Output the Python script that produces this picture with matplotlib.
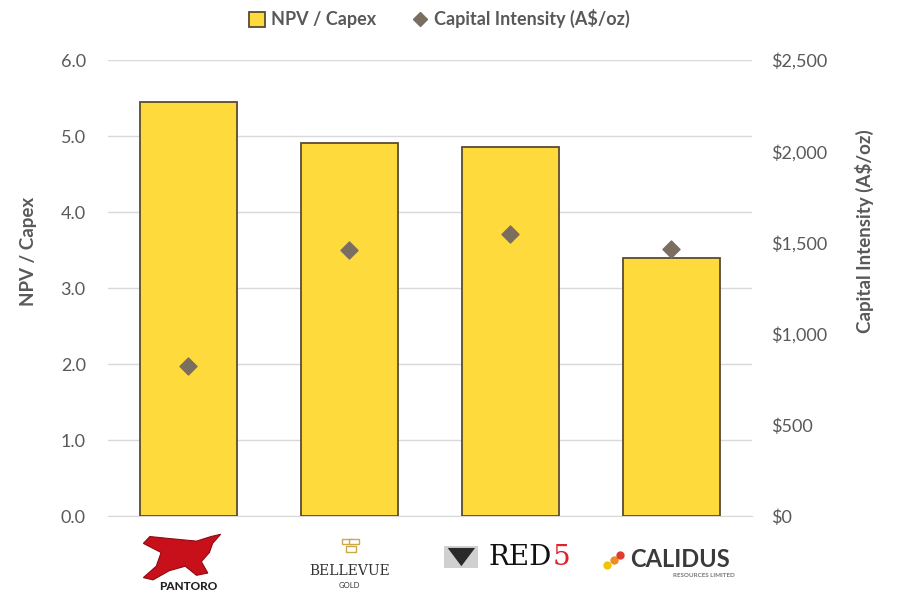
import matplotlib
matplotlib.use("Agg")
import matplotlib.pyplot as plt
from matplotlib.lines import Line2D
from matplotlib.patches import Patch, Polygon, Rectangle

plt.rcParams['font.family'] = ['Lato', 'DejaVu Sans']

companies = ["PANTORO", "BELLEVUE", "RED5", "CALIDUS"]
npv_capex = [5.45, 4.91, 4.86, 3.39]
cap_intensity = [822, 1458, 1546, 1464]
left_ticks = [0.0, 1.0, 2.0, 3.0, 4.0, 5.0, 6.0]
right_ticks = [0, 500, 1000, 1500, 2000, 2500]

bar_color = "#FFDA3D"
edge_color = "#5A4A32"
diamond_color = "#7A6E61"
text_gray = "#595959"

fig = plt.figure(figsize=(9.02, 5.93), dpi=100)
ax = fig.add_axes([0.1197, 0.1298, 0.714, 0.769])
x = list(range(len(companies)))
ax.bar(x, npv_capex, width=0.6, color=bar_color, edgecolor=edge_color, linewidth=1.3, zorder=3)
ax.set_ylim(0, 6)
ax.set_xlim(-0.5, 3.5)
ax.set_yticks(left_ticks)
ax.set_yticklabels([f"{v:.1f}" for v in left_ticks])
ax.grid(axis='y', color="#D9D9D9", linewidth=1, zorder=0)
for s in ["top", "right", "left"]:
    ax.spines[s].set_visible(False)
ax.spines["bottom"].set_color("#D9D9D9")
ax.tick_params(axis='y', length=0, labelsize=13, labelcolor=text_gray, pad=16)
ax.tick_params(axis='x', length=0)
ax.set_ylabel("NPV / Capex", fontsize=13.5, fontweight='bold', color=text_gray)
ax.yaxis.set_label_coords(-0.11, 0.58)

ax2 = ax.twinx()
ax2.scatter(x, cap_intensity, marker='D', s=75, color=diamond_color, zorder=4)
ax2.set_ylim(0, 2500)
ax2.set_yticks(right_ticks)
ax2.set_yticklabels([f"\\${v:,}" for v in right_ticks])
for s in ["top", "right", "left", "bottom"]:
    ax2.spines[s].set_visible(False)
ax2.tick_params(axis='y', length=0, labelsize=13, labelcolor=text_gray, pad=14)
ax2.set_ylabel("Capital Intensity (A\\$/oz)", fontsize=13.5, fontweight='bold', color=text_gray)
ax2.yaxis.set_label_coords(1.16, 0.625)

# logo-like category labels
ax.set_xticks(x)
ax.set_xticklabels([""] * len(companies))
tr = ax.get_xaxis_transform()

# Pantoro: stylised red bull shape + name
bull = Polygon([(-0.28, -0.06), (-0.24, -0.045), (-0.1, -0.05), (0.05, -0.055),
                (0.14, -0.045), (0.2, -0.04), (0.15, -0.06), (0.13, -0.08),
                (0.08, -0.1), (0.12, -0.125), (0.05, -0.13), (-0.02, -0.11),
                (-0.12, -0.12), (-0.22, -0.14), (-0.28, -0.135), (-0.2, -0.11),
                (-0.17, -0.08)],
               closed=True, transform=tr, clip_on=False, facecolor="#C8101A",
               edgecolor="#8E0A10", linewidth=0.8)
ax.add_patch(bull)
ax.text(0, -0.155, companies[0], transform=tr, ha='center', va='center', fontsize=8.5,
        fontweight='black', color="#222222")

# Bellevue
for (bx, by) in [(-0.045, -0.062), (0.0, -0.062), (-0.02, -0.078)]:
    ax.add_patch(Rectangle((1 + bx, by), 0.06, 0.012, transform=tr, clip_on=False,
                           facecolor="white", edgecolor="#C9A94A", linewidth=1))
ax.text(1, -0.12, "BELLEVUE", transform=tr, ha='center', va='center', fontsize=10,
        family=['DejaVu Serif'], color="#333333")
ax.text(1, -0.152, "GOLD", transform=tr, ha='center', va='center', fontsize=5.5,
        color="#333333")

# Red5
ax.add_patch(Rectangle((1.59, -0.115), 0.21, 0.05, transform=tr, clip_on=False,
                       facecolor="#D0D0D0", edgecolor='none'))
ax.add_patch(Polygon([(1.61, -0.07), (1.78, -0.07), (1.695, -0.11)], closed=True,
                     transform=tr, clip_on=False, facecolor="#2A2A2A", edgecolor='none'))
ax.text(2.26, -0.09, "RED", transform=tr, ha='right', va='center', fontsize=20,
        family=['DejaVu Serif'], color="#111111")
ax.text(2.26, -0.09, "5", transform=tr, ha='left', va='center', fontsize=20,
        family=['DejaVu Serif'], color="#E0222A")

# Calidus
ax.text(3.05, -0.095, "CALIDUS", transform=tr, ha='center', va='center', fontsize=17,
        fontweight='bold', color="#3A3A3A")
ax.text(3.2, -0.13, "RESOURCES LIMITED", transform=tr, ha='center', va='center', fontsize=4.5,
        fontweight='bold', color="#777777")
for xi, yi, c in [(2.60, -0.108, "#F2C500"), (2.64, -0.097, "#F08A24"), (2.68, -0.086, "#E03C31")]:
    ax.plot([xi], [yi], transform=tr, clip_on=False, marker='o', markersize=6,
            markeredgewidth=0, color=c)

handles = [Patch(facecolor=bar_color, edgecolor=edge_color, linewidth=1.3, label="NPV / Capex"),
           Line2D([], [], marker='D', linestyle='none', color=diamond_color, markersize=7,
                  label="Capital Intensity (A\\$/oz)")]
leg = fig.legend(handles=handles, loc='center', bbox_to_anchor=(0.487, 0.968), ncol=2,
                 frameon=False, fontsize=13, handlelength=0.9, handleheight=0.9,
                 columnspacing=2.0, handletextpad=0.3)
for t in leg.get_texts():
    t.set_color(text_gray)
    t.set_fontweight('bold')

fig.savefig("out.png", dpi=100)
